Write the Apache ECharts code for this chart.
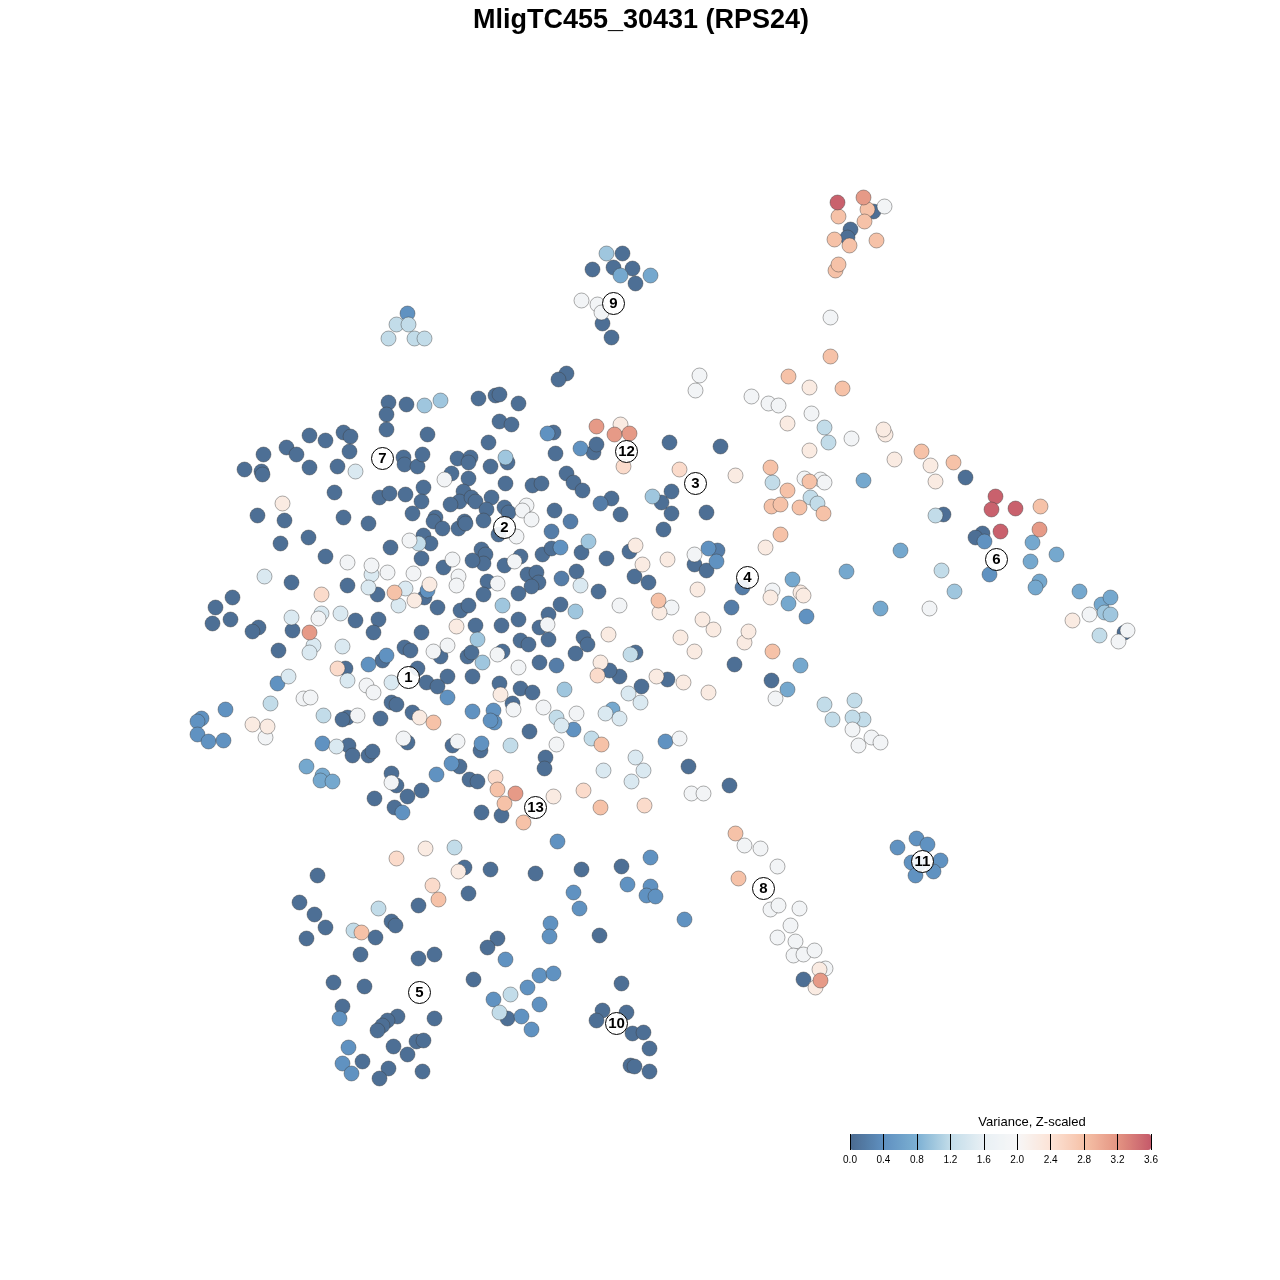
<!DOCTYPE html>
<html>
<head>
<meta charset="utf-8">
<style>html,body{margin:0;background:#fff}#chart{width:1280px;height:1280px}</style>
<script src="https://cdn.jsdelivr.net/npm/echarts@6/dist/echarts.min.js"></script>
</head>
<body>
<div id="chart"></div>
<script>
// points, grouped by their colour band (x, y in plot units)
const band00 = [[873,211],[850,229],[847,237],[622,253],[592,269],[613,267],[632,268],[635,283],[602,323],[611,337],[566,373],[558,379],[388,402],[386,414],[406,404],[478,398],[495,395],[499,394],[518,403],[499,421],[511,424],[427,434],[386,429],[309,435],[325,440],[343,432],[350,436],[349,451],[286,447],[263,454],[296,454],[244,469],[261,471],[262,474],[309,467],[337,466],[334,492],[379,497],[389,493],[405,494],[423,487],[421,501],[403,457],[404,464],[417,466],[422,454],[457,458],[470,457],[468,462],[451,473],[468,478],[490,466],[488,442],[505,483],[507,462],[553,432],[555,453],[593,452],[596,444],[669,442],[720,446],[566,473],[573,482],[582,490],[532,485],[541,483],[491,497],[463,491],[459,501],[450,504],[471,497],[475,501],[486,509],[504,507],[508,512],[412,513],[435,517],[433,521],[442,528],[458,528],[464,521],[465,523],[483,520],[498,534],[554,510],[620,514],[611,498],[661,502],[671,491],[671,513],[706,512],[663,529],[257,515],[284,520],[343,517],[368,523],[308,537],[280,543],[325,556],[390,547],[421,558],[423,535],[430,543],[481,549],[485,554],[483,563],[504,565],[520,556],[542,554],[551,548],[581,552],[606,558],[629,551],[694,564],[706,570],[634,576],[648,582],[443,567],[472,560],[487,581],[527,574],[536,572],[538,582],[531,586],[518,593],[483,594],[576,571],[598,591],[291,582],[347,585],[232,597],[215,607],[212,623],[230,619],[258,627],[252,631],[292,630],[278,650],[377,594],[424,597],[378,619],[373,632],[355,620],[437,607],[460,610],[468,605],[421,632],[475,625],[501,625],[518,619],[539,627],[548,614],[560,604],[548,639],[520,640],[528,644],[583,637],[587,644],[575,653],[467,656],[471,652],[502,651],[404,647],[410,650],[440,656],[417,668],[382,660],[345,668],[539,662],[472,676],[447,676],[426,682],[437,686],[499,683],[520,688],[532,692],[512,703],[635,652],[667,679],[641,686],[619,676],[609,670],[734,664],[771,680],[347,717],[342,719],[380,718],[391,702],[396,704],[412,712],[407,742],[348,745],[352,755],[368,755],[372,751],[452,745],[480,750],[459,766],[529,731],[545,757],[544,768],[688,766],[729,785],[469,779],[477,781],[391,773],[396,785],[421,790],[407,796],[374,798],[394,807],[481,812],[501,815],[317,875],[464,867],[490,869],[535,873],[581,869],[621,866],[299,902],[314,914],[325,927],[306,938],[391,921],[395,925],[375,937],[360,954],[418,905],[468,893],[497,938],[487,947],[599,935],[418,958],[434,954],[333,982],[364,986],[473,979],[342,1006],[621,983],[434,1018],[397,1016],[387,1020],[382,1025],[377,1030],[602,1010],[626,1012],[596,1020],[632,1033],[643,1032],[649,1048],[393,1046],[416,1041],[423,1040],[407,1054],[362,1061],[388,1068],[379,1078],[422,1071],[649,1071],[630,1065],[634,1066],[507,1018],[965,477],[982,533],[975,537],[943,514],[1124,632],[803,979]];
const band02 = [[556,665],[551,531],[570,521],[600,503],[742,587],[731,607],[717,550],[561,578]];
const band04 = [[547,433],[580,448],[708,548],[716,561],[560,547],[427,590],[368,664],[386,655],[277,683],[225,709],[201,718],[197,721],[197,734],[208,741],[223,740],[322,743],[493,710],[494,722],[490,720],[472,711],[447,697],[481,743],[451,763],[436,774],[402,812],[665,741],[573,729],[557,841],[650,857],[627,884],[650,886],[646,895],[655,896],[573,892],[579,908],[684,919],[550,923],[549,936],[505,959],[539,975],[553,973],[527,987],[493,999],[539,1004],[521,1016],[531,1029],[339,1018],[348,1047],[342,1063],[351,1073],[806,616],[989,574],[984,541],[897,847],[916,838],[927,844],[911,862],[919,863],[940,860],[933,871],[915,875],[407,313]];
const band07 = [[1101,604],[1110,597],[1079,591],[1039,581],[1035,587],[1056,554],[1030,561],[1032,542],[880,608],[846,571],[800,665],[863,480],[650,275],[620,275],[306,766],[322,775],[320,780],[332,781],[787,689],[788,603],[792,579],[900,550],[612,709]];
const band10 = [[606,253],[424,405],[440,400],[954,591],[1104,612],[1110,614],[505,457],[652,496],[588,541],[575,611],[502,605],[477,639],[482,662],[564,689]];
const band13 = [[396,324],[408,324],[388,338],[414,338],[424,338],[824,427],[828,442],[772,482],[810,497],[817,503],[935,515],[941,570],[1099,635],[824,704],[832,719],[863,719],[854,700],[852,717],[378,908],[353,930],[454,847],[499,1012],[510,994],[270,703],[323,715],[418,543],[556,717],[591,738],[630,654],[510,745]];
const band15 = [[336,746],[342,646],[288,676],[391,682],[264,576],[313,645],[631,781],[603,770],[561,725],[605,713],[619,718],[628,693],[640,702],[643,770],[635,757],[580,585],[371,574],[368,587],[405,588],[398,605],[340,613],[291,617],[321,613],[309,652],[347,680],[355,471]];
const band18 = [[884,206],[581,300],[597,304],[601,312],[830,317],[699,375],[695,390],[751,396],[768,403],[778,405],[811,413],[851,438],[804,478],[820,479],[824,482],[694,554],[444,479],[526,505],[522,510],[531,519],[516,536],[409,540],[347,562],[452,559],[514,561],[458,576],[371,565],[387,572],[413,573],[456,585],[497,583],[619,605],[671,607],[318,618],[447,645],[433,651],[547,624],[497,654],[518,667],[366,685],[373,692],[303,698],[310,697],[357,715],[403,738],[457,741],[513,709],[543,707],[576,713],[556,744],[391,782],[691,793],[703,793],[679,738],[775,698],[852,729],[858,745],[871,737],[880,742],[744,845],[760,848],[777,866],[770,909],[778,905],[799,908],[790,925],[777,937],[795,941],[793,955],[803,954],[814,950],[825,968],[772,590],[929,608],[1089,614],[1118,641],[1127,630],[265,737]];
const band23 = [[282,503],[620,424],[735,475],[885,434],[883,429],[894,459],[935,481],[930,465],[809,387],[787,423],[809,450],[765,547],[635,545],[642,564],[667,559],[697,589],[702,619],[713,629],[680,637],[694,651],[744,642],[748,631],[608,634],[600,662],[656,676],[683,682],[708,692],[456,626],[414,600],[500,694],[553,796],[1072,620],[815,987],[819,969],[425,848],[458,871],[252,724],[267,726],[659,612],[770,597],[800,592],[803,595],[419,717],[429,584]];
const band26 = [[623,466],[679,469],[321,594],[495,777],[583,790],[644,805],[337,668],[597,675],[396,858],[432,885]];
const band28 = [[834,239],[849,245],[838,216],[867,209],[864,221],[876,240],[835,270],[838,264],[830,356],[788,376],[842,388],[770,467],[921,451],[953,462],[787,490],[809,481],[771,506],[780,504],[799,507],[823,513],[780,534],[1040,506],[658,600],[394,592],[433,722],[497,789],[504,803],[600,807],[523,822],[735,833],[738,878],[438,899],[361,932],[772,651],[601,744]];
const band32 = [[863,197],[596,426],[614,434],[629,433],[309,632],[515,793],[820,980],[1039,529]];
const band35 = [[837,202],[995,496],[1015,508],[1000,531],[991,509]];

const bands = [[0.05, band00], [0.2, band02], [0.42, band04], [0.7, band07], [1.0, band10], [1.2, band13], [1.45, band15], [1.85, band18], [2.25, band23], [2.5, band26], [2.8, band28], [3.15, band32], [3.55, band35]];

const clusterNames = ['1','2','3','4','5','6','7','8','9','10','11','12','13'];
const clusterX = [408,504,695,747,419,996,382,763,613,616,922,626,535];
const clusterY = [677,527,483,577,992,559,458,888,303,1023,861,451,807];

const rampColors = ['#4a6a8f','#5f90c0','#7cb0d3','#c2dce9','#e9f0f5','#f7f7f7','#fce3d6','#f6c2a8','#e49482','#c55a6a'];

const points = [];
bands.forEach(([z, list]) => list.forEach(p => points.push([p[0], p[1], z])));

const chart = echarts.init(document.getElementById('chart'));
chart.setOption({
  animation: false,
  backgroundColor: '#fff',
  textStyle: { fontFamily: 'Liberation Sans' },
  title: [
    {
      text: 'MligTC455_30431 (RPS24)',
      left: 636, top: 2, textAlign: 'center',
      textStyle: { fontSize: 27, fontWeight: 'bold', color: '#000', fontFamily: 'Liberation Sans' }
    },
    {
      text: 'Variance, Z-scaled',
      left: 1027, top: 1111, textAlign: 'center',
      textStyle: { fontSize: 13, fontWeight: 'normal', color: '#000', fontFamily: 'Liberation Sans' }
    }
  ],
  grid: [
    { left: 0, right: 0, top: 0, bottom: 0 },
    { left: 850, top: 1134, width: 301, height: 16 }
  ],
  xAxis: [
    { type: 'value', min: -0.5, max: 1279.5, show: false },
    {
      gridIndex: 1, type: 'value', min: 0, max: 3.6, interval: 0.4, z: 10,
      axisLine: { show: false }, axisTick: { show: false },
      splitLine: { show: true, lineStyle: { color: '#000', width: 1 } },
      axisLabel: {
        fontSize: 10, color: '#000', margin: 5, hideOverlap: false, showMinLabel: true, showMaxLabel: true,
        formatter: v => v.toFixed(1)
      }
    }
  ],
  yAxis: [
    { type: 'value', min: -0.5, max: 1279.5, inverse: true, show: false },
    { gridIndex: 1, type: 'value', min: 0, max: 1, show: false }
  ],
  visualMap: {
    type: 'continuous', seriesIndex: 0, dimension: 2, min: 0, max: 3.6,
    orient: 'horizontal', left: 850, top: 1134, itemWidth: 16, itemHeight: 301,
    padding: 0, calculable: false, showLabel: false, text: null, realtime: false,
    inRange: { color: rampColors }
  },
  series: [
    {
      type: 'scatter', data: points, symbolSize: 15,
      itemStyle: { opacity: 1, borderColor: 'rgba(60,60,60,0.42)', borderWidth: 1 }
    },
    {
      type: 'scatter', symbolSize: 22, z: 5,
      data: clusterNames.map((n, i) => ({ name: n, value: [clusterX[i], clusterY[i]] })),
      itemStyle: { color: 'rgba(255,255,255,0.9)', borderColor: '#000', borderWidth: 1, opacity: 1 },
      label: { show: true, position: 'inside', formatter: '{b}', color: '#000', fontSize: 15, fontWeight: 'bold', fontFamily: 'Liberation Sans' }
    }
  ]
});
</script>
</body>
</html>
